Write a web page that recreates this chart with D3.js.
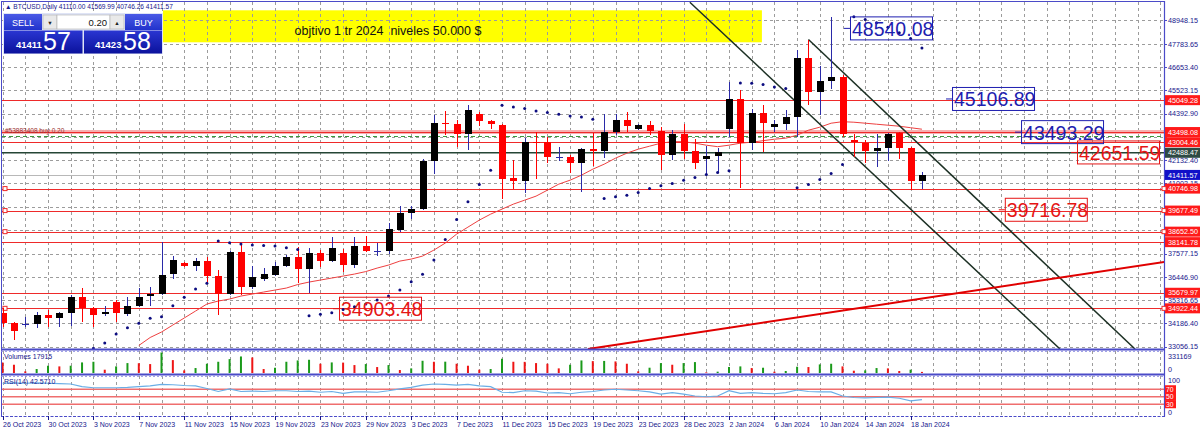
<!DOCTYPE html>
<html><head><meta charset="utf-8">
<script src="https://cdn.jsdelivr.net/npm/d3@7"></script>
<style>html,body{margin:0;padding:0;background:#fff;overflow:hidden}</style>
</head><body><svg id="c" width="1200" height="432" xmlns="http://www.w3.org/2000/svg"></svg>
<script>
// ---------------- DATA ----------------
const symbolHeader = "BTCUSD,Daily 41110.00 41569.99 40746.26 41411.57";
const dateLabels = ["26 Oct 2023","30 Oct 2023","3 Nov 2023","7 Nov 2023","11 Nov 2023","15 Nov 2023","19 Nov 2023","23 Nov 2023","29 Nov 2023","3 Dec 2023","7 Dec 2023","11 Dec 2023","15 Dec 2023","19 Dec 2023","23 Dec 2023","28 Dec 2023","2 Jan 2024","6 Jan 2024","10 Jan 2024","14 Jan 2024","18 Jan 2024"];
const dateLabelBars = [0,4,8,12,16,20,24,28,32,36,40,44,48,52,56,60,64,68,72,76,80];
const priceTicks = [48948.15,47783.65,46653.40,45523.15,44392.90,43262.65,42132.40,41002.15,39871.90,38741.65,37577.15,36446.90,35316.65,34186.40,33056.15];
const hiddenTickLabels = [43262.65,39871.90,38741.65];

const openP  = [34694,34193,34135,34145,34597,34436,34679,35486,34922,34645,35243,34645,35034,35505,35603,36575,37109,36993,37221,36492,35603,37673,35972,36332,36541,36993,37401,36818,37625,37236,37625,37027,37950,37712,37707,38728,39568,39733,42081,43942,43865,43427,44365,44040,43845,41269,41124,43019,43019,42280,42290,41969,42679,42567,43505,44074,43670,43830,43554,42373,43427,42567,42164,42324,43670,45128,42941,44448,43748,43913,44234,47121,45449,45969,46178,43102,42970,42567,42727,43456,42698,41110];
const highP  = [34937,34271,34514,34757,34840,34757,35569,35906,34985,35049,35326,35457,35923,35943,38159,37464,37187,37367,37430,36784,37722,38081,36978,36866,37187,37513,37916,37867,37756,38402,37804,38402,38436,38110,39053,39894,39894,42164,44317,44526,44074,44803,44462,44108,43879,42130,43184,43505,43262,42747,42373,42713,43456,44399,44399,44477,43913,44025,43748,43588,43879,43150,42810,42713,45935,45532,44642,44803,44108,44560,47476,47996,46713,49104,46260,43427,43102,43427,43456,43490,42776,41569.99];
const lowP   = [34014,33382,34028,33950,34028,34028,34062,34271,34028,34548,34271,34548,35000,35034,35569,36346,36954,36750,36137,34597,35569,35569,35846,36249,36492,36950,36137,35651,36915,37172,36701,36881,37658,37464,37561,38645,39248,39700,41449,43378,42776,42601,43782,43622,40220,40706,40511,41192,41969,42096,41512,40589,41853,42212,43345,43505,43588,43345,41644,42130,42178,41692,41401,41483,43262,40783,42616,42533,43505,43588,43262,44803,44317,45614,43262,42290,41969,41804,42081,42178,40671,40746.26];
const closeP = [34208,33834,34159,34597,34436,34679,35486,34922,34597,34757,34679,35034,35486,35603,36541,37270,36978,37221,36492,35603,37673,35972,36429,36575,36993,37401,36818,37625,37236,37838,37027,37950,37707,37731,38762,39568,39733,42096,43942,43865,43427,44594,44040,43865,41206,41124,43019,42970,42290,42300,41969,42649,42567,43505,44074,43782,43830,43539,42373,43427,42567,41998,42324,42533,45128,42941,44448,43962,43913,44234,47121,45449,45969,46178,43427,42990,42567,42727,43427,42698,41109,41411.57];

const maPrice = [null,null,null,null,null,null,null,null,null,null,null,null,
 33114,33503,33770,34111,34451,34791,35131,35277,35374,35520,35617,35715,35812,35909,36079,36200,36298,36395,36492,36589,36711,36881,37027,37221,37318,37464,37756,38096,38533,38873,39214,39505,39748,39991,40185,40380,40671,40963,41157,41400,41692,41935,42227,42470,42664,42810,42956,43029,43029,42956,42859,42786,42859,42956,43004,43077,43150,43199,43345,43588,43734,43928,44001,43976,43928,43879,43830,43782,43709,43636];

const sarPrice = [null,null,null,null,null,null,null,null,32973,33236,
 33673,33979,34193,34436,34514,35049,35457,35860,36137,38193,
 38110,38047,37998,37974,37950,37867,37790,34563,34631,34708,
 34864,35000,35131,35326,35520,35812,36215,36575,37270,38276,
 39248,40103,40949,41644,44803,44720,44642,44526,44448,44365,
 44283,44234,44122,40268,40346,40429,40560,40754,40881,40997,
 41157,41289,41435,41532,41619,45886,45872,45809,45692,45614,
 40783,40949,41192,41483,41921,49104,48968,48812,48593,48326,
 48044,47587];

const volumes = [171000,133500,26700,64100,117500,106800,117500,170900,181600,53400,
 106800,160200,158000,144200,331169,208300,42700,80100,149600,181600,
 224300,267100,251000,64100,85500,181600,203000,213700,149600,170900,
 168000,128200,144200,96100,128200,48100,74800,197600,181600,183000,
 149600,117500,53400,64100,229700,181600,180000,160200,149600,74800,
 133500,203000,192000,195000,186900,149600,26700,85500,160200,133500,
 160200,176300,10700,21400,96100,106800,80100,85500,21400,32000,
 101500,96100,138900,149600,106800,37400,42700,80000,74800,32000,
 53400,17915];
const volumeMax = 331169;

const rsiValues = [86,87,86,87,86,85,84,77,74,74,
 74,75,77,79,83,82,80,79,72,64,
 71,64,65,64,66,66,64,65,62,64,
 59,63,63,62,66,71,75,81,84,83,
 81,83,79,77,62,61,66,65,60,61,
 58,62,64,68,70,68,66,63,57,61,
 57,52,50,52,66,59,61,59,58,61,
 68,64,63,63,52,48,47,48,49,46,
 39,42.571];
const rsiLevels = [70,50,30];

const redLevels = [45049.28,43498.08,43004.46,40746.98,39677.49,38652.50,38141.78,35679.97,34922.44];
const squareLevels = [40746.98,39677.49,38652.50,34922.44];
const darkLevel = 42488.47;
const bidPrice = 41411.57;
const askPrice = 41423.58;
const orderPrice = 43290;
const orderText = "#53883408 buy 0.20";

const labelValues = [48540.08,45106.89,43493.29,42651.59,39716.78,34903.48];
const labelBars   = [74.66,83.65,89.73,94.66,88.3,29.64];
const labelIsBlue = [true,true,true,false,false,false];

// trend lines: [bar, price] endpoints
const trendBlack1 = [[60.55,49808],[93.16,32944]];
const trendBlack2 = [[71.0,47996],[99.77,32944]];
const trendRed    = [[51.58,32944],[102.4,37187]];

const noteRectBars = [14.13,66.9];
const noteRectPrices = [47864,49420];
const noteText = "objtivo 1 tr 2024  niveles 50.000 $";

// ---------------- LAYOUT ----------------
const FONT = "'Liberation Sans', Arial, sans-serif";
const NAVY = "#16168c";
const FRAME = "#4b4bc8";
const mainL=2, mainR=1164, mainT=2, mainB=349;
const volT=351, volB=374, rsiT=376, rsiB=416;
const labelDy = [0,0,0,3,0,0];

const x  = d3.scaleLinear().domain([0,100]).range([2.6,1137.6]);
const y  = d3.scaleLinear().domain([33056.15,48948.15]).range([346.7,20]);
const yv = d3.scaleLinear().domain([0,volumeMax]).range([373,352.5]);
const yr = d3.scaleLinear().domain([0,100]).range([415.5,378]);
const idx = d3.range(openP.length);

const svg = d3.select("#c");
svg.append("rect").attr("width",1200).attr("height",432).attr("fill","#fff");
const defs = svg.append("defs");
defs.append("clipPath").attr("id","cm").append("rect").attr("x",mainL).attr("y",mainT).attr("width",mainR-mainL).attr("height",mainB-mainT);
defs.append("clipPath").attr("id","cv").append("rect").attr("x",mainL).attr("y",volT).attr("width",mainR-mainL).attr("height",volB-volT);
defs.append("clipPath").attr("id","cr").append("rect").attr("x",mainL).attr("y",rsiT).attr("width",mainR-mainL).attr("height",rsiB-rsiT);

const gm = svg.append("g").attr("clip-path","url(#cm)");
const gv = svg.append("g").attr("clip-path","url(#cv)");
const gr = svg.append("g").attr("clip-path","url(#cr)");
const crisp = v => Math.round(v)+0.5;

// yellow note rectangle
const nx0 = x(noteRectBars[0]), nx1 = x(noteRectBars[1]);
const ny0 = y(noteRectPrices[1]), ny1 = y(noteRectPrices[0]);
gm.append("rect").attr("x",nx0).attr("y",ny0).attr("width",nx1-nx0).attr("height",ny1-ny0).attr("fill","#ffff00");

// grid
const gridBars = d3.range(0,104,2).filter(b=>x(b)<mainR-1);
[[gm,mainT,mainB],[gv,volT,volB],[gr,rsiT,rsiB]].forEach(([g,t,b])=>{
  g.selectAll(null).data(gridBars).enter().append("line")
   .attr("x1",d=>crisp(x(d))).attr("x2",d=>crisp(x(d))).attr("y1",t).attr("y2",b)
   .attr("stroke","#9c9c9c").attr("stroke-dasharray","3,3").attr("stroke-width",1);
});
gm.selectAll(null).data(priceTicks).enter().append("line")
  .attr("x1",mainL).attr("x2",mainR).attr("y1",d=>crisp(y(d))).attr("y2",d=>crisp(y(d)))
  .attr("stroke","#9c9c9c").attr("stroke-dasharray","3,3");

// note text
gm.append("text").attr("x",nx0 + 225).attr("y",ny0 + 24.5)
  .attr("text-anchor","middle").attr("font-family",FONT).attr("font-size",12.5)
  .attr("fill","#111").style("white-space","pre").text(noteText);

// horizontal levels
gm.append("line").attr("x1",mainL).attr("x2",mainR).attr("y1",y(43498.08)).attr("y2",y(43498.08))
  .attr("stroke","#f6b0b0").attr("stroke-width",4);
gm.selectAll(null).data(redLevels).enter().append("line")
  .attr("x1",mainL).attr("x2",mainR).attr("y1",d=>crisp(y(d))).attr("y2",d=>crisp(y(d)))
  .attr("stroke","#ee2a2a").attr("stroke-width",1);
gm.append("line").attr("x1",mainL).attr("x2",mainR).attr("y1",crisp(y(orderPrice))).attr("y2",crisp(y(orderPrice)))
  .attr("stroke","#3a9a3a").attr("stroke-dasharray","4,3");
gm.append("line").attr("x1",mainL).attr("x2",mainR).attr("y1",crisp(y(bidPrice))).attr("y2",crisp(y(bidPrice)))
  .attr("stroke","#b8b8b8");
gm.append("line").attr("x1",mainL).attr("x2",mainR).attr("y1",y(darkLevel)).attr("y2",y(darkLevel))
  .attr("stroke","#254535").attr("stroke-width",1.6);
gm.append("text").attr("x",5).attr("y",y(43498.08)+1).attr("font-family",FONT).attr("font-size",6.5)
  .attr("fill","#9a3030").text(orderText);
gm.selectAll(null).data(squareLevels).enter().append("rect")
  .attr("x",3).attr("y",d=>y(d)-2).attr("width",4).attr("height",4)
  .attr("fill","#fff").attr("stroke","#ee2a2a").attr("stroke-width",1);

// moving average
gm.append("path").datum(idx.filter(i=>maPrice[i]!==null))
  .attr("d",d3.line().x(i=>x(i)).y(i=>y(maPrice[i])))
  .attr("fill","none").attr("stroke","#ee4040").attr("stroke-width",1);

// trend lines
const tl = d3.line().x(d=>x(d[0])).y(d=>y(d[1]));
gm.append("path").datum(trendBlack1).attr("d",tl).attr("stroke","#1c3024").attr("stroke-width",1.5).attr("fill","none");
gm.append("path").datum(trendBlack2).attr("d",tl).attr("stroke","#1c3024").attr("stroke-width",1.5).attr("fill","none");
gm.append("path").datum(trendRed).attr("d",tl).attr("stroke","#e00000").attr("stroke-width",2).attr("fill","none");

// candles
const UPW = "#2a2aa8";
const cg = gm.append("g");
idx.forEach(i=>{
  const up = closeP[i] >= openP[i];
  const cx = crisp(x(i));
  const col = up ? UPW : "#ff0000";
  cg.append("line").attr("x1",cx).attr("x2",cx).attr("y1",y(highP[i])).attr("y2",y(lowP[i]))
    .attr("stroke",col).attr("stroke-width",1).attr("shape-rendering","crispEdges");
  const t = y(Math.max(openP[i],closeP[i])), b = y(Math.min(openP[i],closeP[i]));
  if (b - t < 1.5) {
    cg.append("line").attr("x1",cx-3.5).attr("x2",cx+3.5).attr("y1",crisp((t+b)/2)).attr("y2",crisp((t+b)/2))
      .attr("stroke",col).attr("shape-rendering","crispEdges");
  } else {
    cg.append("rect").attr("x",cx-3.5).attr("y",t).attr("width",7).attr("height",b-t)
      .attr("fill",up?"#000":"#ff0000").attr("shape-rendering","crispEdges");
  }
});

// SAR dots
gm.selectAll(null).data(idx.filter(i=>sarPrice[i]!==null)).enter().append("circle")
  .attr("cx",i=>x(i)).attr("cy",i=>y(sarPrice[i])).attr("r",1.5).attr("fill","#0c0c80");

// price labels
labelValues.forEach((v,k)=>{
  const col = labelIsBlue[k] ? "#1e1eb0" : "#e51515";
  const lx = x(labelBars[k]), ly = y(v) + labelDy[k];
  const g = gm.append("g");
  g.append("line").attr("x1",lx-6).attr("x2",lx).attr("y1",ly).attr("y2",ly).attr("stroke",col);
  g.append("rect").attr("x",lx+0.5).attr("y",ly-11.5).attr("width",82).attr("height",23)
    .attr("fill","none").attr("stroke",col).attr("stroke-width",1);
  g.append("text").attr("x",lx+2).attr("y",ly+7.5).attr("font-family",FONT).attr("font-size",19.5)
    .attr("fill",col).text(v.toFixed(2));
});

// volumes
gv.selectAll(null).data(idx).enter().append("line")
  .attr("x1",i=>x(i)).attr("x2",i=>x(i)).attr("y1",yv(0)).attr("y2",i=>yv(volumes[i]))
  .attr("stroke",i=> (i>0 && volumes[i]>volumes[i-1]) ? "#1a9a1a" : "#ee1515").attr("stroke-width",2);

// RSI
gr.selectAll(null).data(rsiLevels).enter().append("line")
  .attr("x1",mainL).attr("x2",mainR).attr("y1",d=>yr(d)).attr("y2",d=>yr(d))
  .attr("stroke","#ef6e6e").attr("stroke-width",1.5);
gr.append("path").datum(idx).attr("d",d3.line().x(i=>x(i)).y(i=>yr(rsiValues[i])))
  .attr("fill","none").attr("stroke","#6aaee6").attr("stroke-width",1.2);

// panel labels
svg.append("text").attr("x",4).attr("y",359).attr("font-family",FONT).attr("font-size",7).attr("fill",NAVY)
  .text("Volumes " + volumes[volumes.length-1]);
svg.append("text").attr("x",4).attr("y",383.5).attr("font-family",FONT).attr("font-size",7).attr("fill",NAVY)
  .text("RSI(14) " + rsiValues[rsiValues.length-1].toFixed(4));

// frames
svg.append("line").attr("x1",1.5).attr("x2",1.5).attr("y1",1).attr("y2",rsiB).attr("stroke",FRAME);
svg.append("line").attr("x1",1).attr("x2",mainR).attr("y1",1.5).attr("y2",1.5).attr("stroke",FRAME);
svg.append("line").attr("x1",mainR+0.5).attr("x2",mainR+0.5).attr("y1",1).attr("y2",rsiB+0.5).attr("stroke",FRAME).attr("stroke-width",1.2);
[[mainB+0.5],[volB+0.5]].forEach(([yy])=>{
  svg.append("line").attr("x1",1).attr("x2",mainR+1).attr("y1",yy).attr("y2",yy).attr("stroke",FRAME).attr("stroke-width",2.2);
  svg.append("line").attr("x1",1).attr("x2",mainR+1).attr("y1",yy+1.8).attr("y2",yy+1.8).attr("stroke","#8a8ae0").attr("stroke-dasharray","2,2");
});
svg.append("line").attr("x1",1).attr("x2",mainR+1).attr("y1",rsiB+0.5).attr("y2",rsiB+0.5).attr("stroke",FRAME).attr("stroke-dasharray","3,1.5");

// right price axis
const ax = svg.append("g").attr("font-family",FONT).attr("font-size",7.2);
priceTicks.forEach(p=>{
  ax.append("line").attr("x1",mainR).attr("x2",mainR+3).attr("y1",crisp(y(p))).attr("y2",crisp(y(p))).attr("stroke",FRAME);
  if (hiddenTickLabels.indexOf(p) < 0)
    ax.append("text").attr("x",mainR+4).attr("y",y(p)+2.6).attr("fill",NAVY).text(p.toFixed(2));
});
function axisBox(val, bg, txt){
  const yy = y(val);
  ax.append("rect").attr("x",mainR+1).attr("y",yy-5).attr("width",35).attr("height",10).attr("fill",bg);
  ax.append("text").attr("x",mainR+4).attr("y",yy+2.6).attr("fill","#fff").text(txt);
}
redLevels.forEach(v=>axisBox(v,"#ff1a1a",v.toFixed(2)));
axisBox(darkLevel,"#2e4a44",darkLevel.toFixed(2));
axisBox(bidPrice,"#1010c8",bidPrice.toFixed(2));
squareLevels.forEach(v=>{
  ax.append("rect").attr("x",mainR-2).attr("y",y(v)-2).attr("width",4).attr("height",4)
    .attr("fill","#fff").attr("stroke","#ee2a2a");
});
ax.append("text").attr("x",mainR+4).attr("y",358.5).attr("fill",NAVY).text(String(volumeMax));
ax.append("text").attr("x",mainR+4).attr("y",372).attr("fill",NAVY).text("0");
ax.append("text").attr("x",mainR+4).attr("y",yr(100)+5).attr("fill",NAVY).text("100");
rsiLevels.forEach(l=>{
  ax.append("rect").attr("x",mainR+1).attr("y",yr(l)-4).attr("width",11).attr("height",8).attr("fill","#ff1a1a");
  ax.append("text").attr("x",mainR+2).attr("y",yr(l)+2.5).attr("fill","#fff").attr("font-size",6.8).text(String(l));
});
ax.append("text").attr("x",mainR+4).attr("y",yr(0)-0.5).attr("fill",NAVY).text("0");

// date axis
const dx = svg.append("g").attr("font-family",FONT).attr("font-size",7);
dateLabelBars.forEach((b,k)=>{
  dx.append("line").attr("x1",crisp(x(b))).attr("x2",crisp(x(b))).attr("y1",rsiB).attr("y2",rsiB+4).attr("stroke",NAVY);
  dx.append("text").attr("x",x(b)+0.5).attr("y",427).attr("fill",NAVY).text(dateLabels[k]);
});

// header
svg.append("text").attr("x",5).attr("y",9).attr("font-family",FONT).attr("font-size",6.6).attr("fill",NAVY)
  .text("\u25B2 " + symbolHeader);

// one-click trading panel
const lg1 = defs.append("linearGradient").attr("id","gTop").attr("x1",0).attr("y1",0).attr("x2",0).attr("y2",1);
lg1.append("stop").attr("offset",0).attr("stop-color","#4a5ae6");
lg1.append("stop").attr("offset",1).attr("stop-color","#2233cc");
const lg2 = defs.append("linearGradient").attr("id","gBot").attr("x1",0).attr("y1",0).attr("x2",0).attr("y2",1);
lg2.append("stop").attr("offset",0).attr("stop-color","#2a36d2");
lg2.append("stop").attr("offset",1).attr("stop-color","#0b129c");
const op = svg.append("g").attr("font-family",FONT);
op.append("rect").attr("x",3).attr("y",13).attr("width",160).attr("height",41).attr("fill","#dfe4f6");
op.append("rect").attr("x",4).attr("y",14).attr("width",38).attr("height",16).attr("fill","url(#gTop)");
op.append("rect").attr("x",125).attr("y",14).attr("width",37).attr("height",16).attr("fill","url(#gTop)");
op.append("rect").attr("x",4).attr("y",30.5).attr("width",78.5).attr("height",23).attr("fill","url(#gBot)");
op.append("rect").attr("x",84).attr("y",30.5).attr("width",78).attr("height",23).attr("fill","url(#gBot)");
op.append("rect").attr("x",43).attr("y",15).attr("width",14).attr("height",14).attr("fill","#e9e9e9").attr("stroke","#b0b0b0").attr("stroke-width",0.6);
op.append("rect").attr("x",57).attr("y",15).attr("width",53).attr("height",14).attr("fill","#fff").attr("stroke","#b0b0b0").attr("stroke-width",0.6);
op.append("rect").attr("x",110).attr("y",15).attr("width",14).attr("height",14).attr("fill","#e9e9e9").attr("stroke","#b0b0b0").attr("stroke-width",0.6);
op.append("text").attr("x",50).attr("y",24.5).attr("text-anchor","middle").attr("font-size",5.5).attr("fill","#222").text("\u25BC");
op.append("text").attr("x",117).attr("y",24.5).attr("text-anchor","middle").attr("font-size",5.5).attr("fill","#222").text("\u25B2");
op.append("text").attr("x",107).attr("y",25.5).attr("text-anchor","end").attr("font-size",9.5).attr("fill","#111").text("0.20");
op.append("text").attr("x",23).attr("y",25.5).attr("text-anchor","middle").attr("font-size",9).attr("fill","#fff").text("SELL");
op.append("text").attr("x",143.5).attr("y",25.5).attr("text-anchor","middle").attr("font-size",9).attr("fill","#fff").text("BUY");
const bidStr = bidPrice.toFixed(2).replace(".",""), askStr = askPrice.toFixed(2).replace(".","");
op.append("text").attr("x",16).attr("y",48).attr("font-size",9.5).attr("font-weight","bold").attr("fill","#fff").text(bidStr.slice(0,5));
op.append("text").attr("x",43).attr("y",50).attr("font-size",25).attr("fill","#fff").text(bidStr.slice(5,7));
op.append("text").attr("x",95).attr("y",48).attr("font-size",9.5).attr("font-weight","bold").attr("fill","#fff").text(askStr.slice(0,5));
op.append("text").attr("x",123).attr("y",50).attr("font-size",25).attr("fill","#fff").text(askStr.slice(5,7));
</script></body></html>
